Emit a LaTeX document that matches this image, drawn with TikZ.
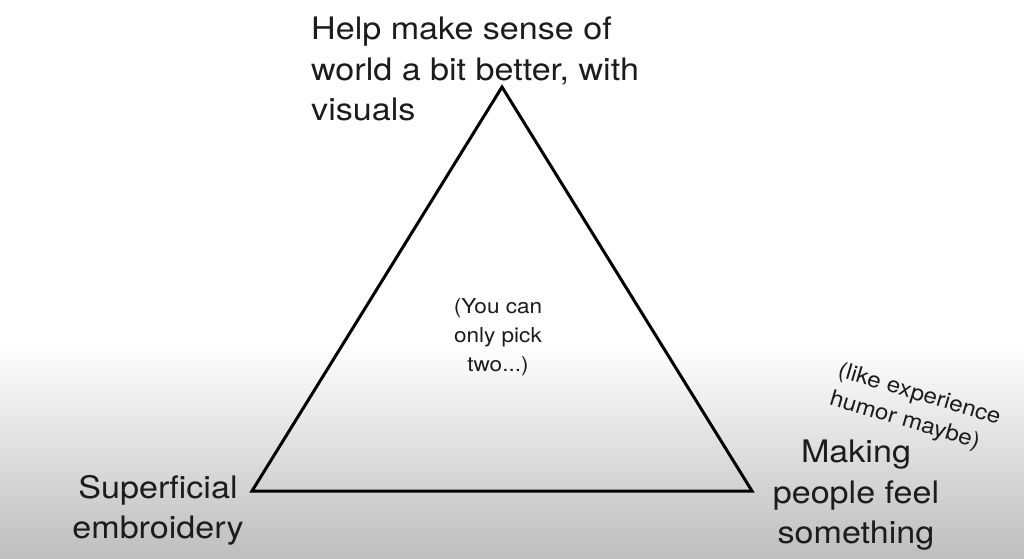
\documentclass[tikz,border=0pt]{standalone}
\usepackage{fontspec}
\setmainfont{TeX Gyre Heros}[FakeStretch=1.1]
\definecolor{ink}{HTML}{1C1C1C}
\definecolor{bgbottom}{HTML}{BEBEBE}
\begin{document}
\begin{tikzpicture}[x=1pt,y=-1pt,
  big/.style={inner sep=0pt, text=ink, font=\fontsize{31}{40.5}\selectfont},
  small/.style={inner sep=0pt, text=ink, font=\fontsize{20.5}{29}\selectfont},
  note/.style={inner sep=0pt, text=ink, font=\fontsize{22}{29}\selectfont},
  tri/.style={draw=black, line width=3pt, line join=miter}]
\useasboundingbox (0,0) rectangle (1024,558);
\fill[white] (0,0) rectangle (1024,558);
\shade[top color=white, bottom color=bgbottom] (0,342) rectangle (1024,558);
% vertices
\coordinate (A) at (502,87);
\coordinate (L) at (252,491);
\coordinate (R) at (752,491);
\draw[tri] (A) -- (L) -- (R) -- cycle;
% labels
\node[big, align=left, anchor=north west] (top) at (311,17) {Help make sense of\\world a bit better, with\\visuals};
\node[big, align=center, anchor=north] (left) at (158,475) {Superficial\\embroidery};
\node[big, align=center, anchor=north] (right) at (856,440) {Making\\people feel\\something};
\node[small, align=center, anchor=north] (mid) at (498,298) {(You can\\only pick\\two...)};
\node[note, align=left, rotate=-16.5] (note) at (915,409) {(like experience\\humor maybe)};
\end{tikzpicture}
\end{document}
